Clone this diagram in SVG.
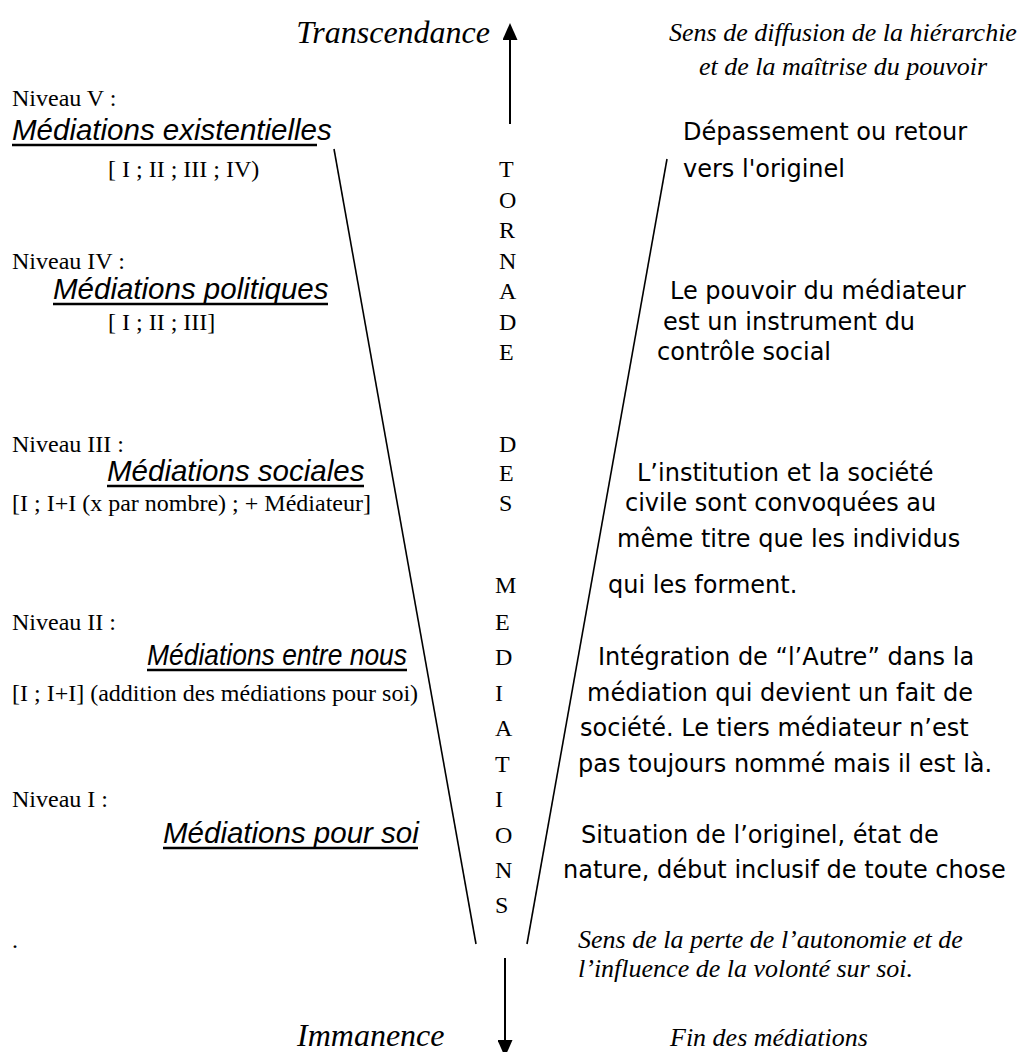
<svg xmlns="http://www.w3.org/2000/svg" width="1034" height="1052" viewBox="0 0 1034 1052">
<style>
.tr{font-family:"Liberation Serif","Times New Roman",serif;font-size:24px;fill:#000}
.ti{font-family:"Liberation Serif","Times New Roman",serif;font-style:italic;fill:#000}
.big{font-size:32px}
.note{font-size:26px}
.ar{font-family:"Liberation Sans",Arial,sans-serif;font-style:italic;font-size:29.5px;fill:#000}
.cs{font-family:"Comic Sans MS","DejaVu Sans",sans-serif;font-size:24px;fill:#000}
.ul{stroke:#000;stroke-width:2.5}
.ln{stroke:#000;stroke-width:1.6;fill:none}
.arw{stroke:#000;stroke-width:2;fill:none}
</style>
<defs>
<marker id="head" markerUnits="userSpaceOnUse" markerWidth="17" markerHeight="15" viewBox="0 0 17 15" refX="0" refY="7.5" orient="auto">
<path d="M0,0 L17,7.5 L0,15 Z" fill="#000"/>
</marker>
</defs>
<rect width="1034" height="1052" fill="#fff"/>

<g id="connectors">
<line class="ln" x1="334" y1="149" x2="476" y2="944"/>
<line class="ln" x1="667" y1="159" x2="527" y2="944"/>
<line class="arw" x1="510" y1="124" x2="510" y2="40" marker-end="url(#head)"/>
<line class="arw" x1="505" y1="958" x2="505" y2="1040" marker-end="url(#head)"/>
</g>

<g id="transcendance"><text class="ti big" x="490" y="43" text-anchor="end">Transcendance</text></g>
<g id="immanence"><text class="ti big" x="297" y="1046">Immanence</text></g>

<g id="sens-diffusion">
<text class="ti note" x="843" y="41" text-anchor="middle">Sens de diffusion de la hiérarchie</text>
<text class="ti note" x="843" y="75" text-anchor="middle">et de la maîtrise du pouvoir</text>
</g>
<g id="sens-perte">
<text class="ti note" x="578" y="948">Sens de la perte de l’autonomie et de</text>
<text class="ti note" x="578" y="977">l’influence de la volonté sur soi.</text>
</g>
<g id="fin"><text class="ti note" x="670" y="1046">Fin des médiations</text></g>

<g id="tornade">
<text class="tr" x="499" y="177">T</text>
<text class="tr" x="499" y="208">O</text>
<text class="tr" x="499" y="238">R</text>
<text class="tr" x="499" y="269">N</text>
<text class="tr" x="499" y="299">A</text>
<text class="tr" x="499" y="330">D</text>
<text class="tr" x="499" y="360">E</text>
<text class="tr" x="499" y="452">D</text>
<text class="tr" x="499" y="481">E</text>
<text class="tr" x="499" y="511">S</text>
<text class="tr" x="495" y="593">M</text>
<text class="tr" x="495" y="630">E</text>
<text class="tr" x="495" y="665">D</text>
<text class="tr" x="495" y="701">I</text>
<text class="tr" x="495" y="736">A</text>
<text class="tr" x="495" y="772">T</text>
<text class="tr" x="495" y="807">I</text>
<text class="tr" x="495" y="843">O</text>
<text class="tr" x="495" y="878">N</text>
<text class="tr" x="495" y="913">S</text>
</g>

<g id="niveau-5">
<text class="tr" x="12" y="106">Niveau V :</text>
<text class="ar" x="12" y="140">Médiations existentielles</text>
<line class="ul" x1="12" y1="145" x2="317" y2="145"/>
<text class="tr" x="108" y="177">[ I ; II ; III ; IV)</text>
</g>
<g id="niveau-4">
<text class="tr" x="12" y="269">Niveau IV :</text>
<text class="ar" x="53" y="299">Médiations politiques</text>
<line class="ul" x1="53" y1="304" x2="328" y2="304"/>
<text class="tr" x="108" y="330">[ I ; II ; III]</text>
</g>
<g id="niveau-3">
<text class="tr" x="12" y="452">Niveau III :</text>
<text class="ar" x="107" y="481">Médiations sociales</text>
<line class="ul" x1="107" y1="486" x2="364" y2="486"/>
<text class="tr" x="12" y="511">[I ; I+I (x par nombre) ; + Médiateur]</text>
</g>
<g id="niveau-2">
<text class="tr" x="12" y="630">Niveau II :</text>
<text class="ar" x="147" y="665" textLength="260" lengthAdjust="spacingAndGlyphs">Médiations entre nous</text>
<line class="ul" x1="147" y1="670" x2="407" y2="670"/>
<text class="tr" x="12" y="701">[I ; I+I] (addition des médiations pour soi)</text>
</g>
<g id="niveau-1">
<text class="tr" x="12" y="807">Niveau I :</text>
<text class="ar" x="163" y="843">Médiations pour soi</text>
<line class="ul" x1="163" y1="848" x2="418" y2="848"/>
<text class="tr" x="12" y="948">.</text>
</g>

<g id="desc-5">
<text class="cs" x="683" y="140">Dépassement ou retour</text>
<text class="cs" x="683" y="177">vers l'originel</text>
</g>
<g id="desc-4">
<text class="cs" x="670" y="299">Le pouvoir du médiateur</text>
<text class="cs" x="663" y="330">est un instrument du</text>
<text class="cs" x="657" y="360">contrôle social</text>
</g>
<g id="desc-3">
<text class="cs" x="637" y="481">L’institution et la société</text>
<text class="cs" x="625" y="511">civile sont convoquées au</text>
<text class="cs" x="617" y="547">même titre que les individus</text>
<text class="cs" x="608" y="593">qui les forment.</text>
</g>
<g id="desc-2">
<text class="cs" x="598" y="665">Intégration de “l’Autre” dans la</text>
<text class="cs" x="587" y="701">médiation qui devient un fait de</text>
<text class="cs" x="580" y="736">société. Le tiers médiateur n’est</text>
<text class="cs" x="578" y="772">pas toujours nommé mais il est là.</text>
</g>
<g id="desc-1">
<text class="cs" x="581" y="843">Situation de l’originel, état de</text>
<text class="cs" x="563" y="878">nature, début inclusif de toute chose</text>
</g>
</svg>
